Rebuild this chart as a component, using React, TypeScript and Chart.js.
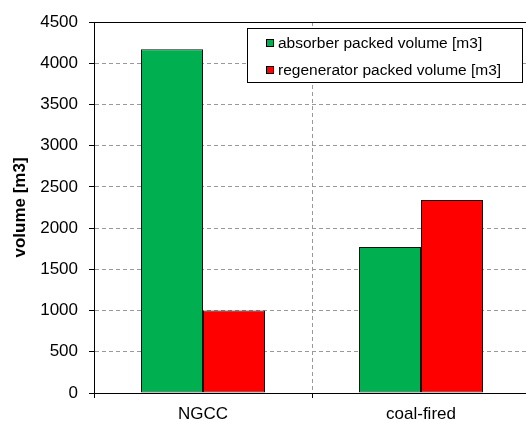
import React, { useEffect, useRef } from "react";
import { Chart, registerables } from "chart.js";

Chart.register(...registerables);

const categories = ["NGCC", "coal-fired"];
const seriesNames = ["absorber packed volume [m3]", "regenerator packed volume [m3]"];
const absorberValues = [4170, 1770];
const regeneratorValues = [1000, 2340];
const seriesColors = ["#00B050", "#FF0000"];
const yTicks = [0, 500, 1000, 1500, 2000, 2500, 3000, 3500, 4000, 4500];

const FONT = "Arial, 'Liberation Sans', sans-serif";

const overlayPlugin = {
  id: "overlay",
  afterDraw(chart: any) {
    const { ctx, chartArea } = chart;
    ctx.save();
    ctx.strokeStyle = "#000";
    ctx.lineWidth = 1;
    ctx.beginPath();
    ctx.moveTo(chartArea.left - 5, Math.round(chartArea.top) + 0.5);
    ctx.lineTo(chartArea.right, Math.round(chartArea.top) + 0.5);
    ctx.stroke();

    const bx = 247.5, by = 28.5, bw = 275, bh = 54;
    ctx.fillStyle = "#fff";
    ctx.fillRect(bx, by, bw, bh);
    ctx.strokeStyle = "#000";
    ctx.strokeRect(bx, by, bw, bh);
    ctx.font = `15.5px ${FONT}`;
    ctx.textBaseline = "middle";
    ctx.textAlign = "left";
    chart.data.datasets.forEach((ds: any, i: number) => {
      const cy = 43 + i * 27;
      ctx.fillStyle = ds.backgroundColor;
      ctx.fillRect(266, cy - 4, 8, 8);
      ctx.strokeStyle = "#000";
      ctx.strokeRect(266.5, cy - 3.5, 7, 7);
      ctx.fillStyle = "#000";
      ctx.fillText(ds.label, 278, cy + 1);
    });
    ctx.restore();
  },
};

export default function App() {
  const ref = useRef<HTMLCanvasElement | null>(null);
  useEffect(() => {
    if (!ref.current) return;
    const chart = new Chart(ref.current, {
      type: "bar",
      data: {
        labels: categories,
        datasets: [
          {
            label: seriesNames[0],
            data: absorberValues,
            backgroundColor: seriesColors[0],
            borderColor: "#111",
            borderWidth: 1,
            borderSkipped: false,
          },
          {
            label: seriesNames[1],
            data: regeneratorValues,
            backgroundColor: seriesColors[1],
            borderColor: "#111",
            borderWidth: 1,
            borderSkipped: false,
          },
        ],
      },
      options: {
        animation: false,
        responsive: false,
        maintainAspectRatio: false,
        devicePixelRatio: 1,
        layout: { padding: { top: 22, right: 2, bottom: 0, left: 0 } },
        datasets: { bar: { categoryPercentage: 124 / 218, barPercentage: 1 } },
        plugins: {
          legend: { display: false },
          tooltip: { enabled: false },
        },
        scales: {
          x: {
            afterFit(scale: any) {
              scale.height = 30;
            },
            grid: {
              display: true,
              offset: true,
              color: "#999",
              lineWidth: 1,
              tickLength: 5,
              tickColor: "#000",
              tickBorderDash: [],
              drawOnChartArea: true,
            },
            border: { display: true, color: "#000", width: 1, dash: [4, 3] },
            ticks: {
              color: "#000",
              font: { family: FONT, size: 17 },
              padding: 6,
            },
          },
          y: {
            min: 0,
            max: 4500,
            afterFit(scale: any) {
              scale.width = 94;
            },
            afterBuildTicks(scale: any) {
              scale.ticks = yTicks.map((v) => ({ value: v }));
            },
            grid: {
              color: "#999",
              lineWidth: 1,
              tickLength: 5,
              tickColor: "#000",
              tickBorderDash: [],
            },
            border: { display: true, color: "#000", width: 1, dash: [4, 3] },
            ticks: {
              color: "#000",
              font: { family: FONT, size: 17 },
              padding: 11,
              callback: (v: any) => String(v),
            },
            title: {
              display: true,
              text: "volume [m3]",
              color: "#000",
              font: { family: FONT, size: 17, weight: "bold" },
              padding: { top: 10, bottom: 0 },
            },
          },
        },
      },
      plugins: [overlayPlugin],
    } as any);
    return () => chart.destroy();
  }, []);
  return (
    <div style={{ position: "absolute", left: 0, top: 0, width: 526, height: 423, overflow: "hidden", background: "#fff" }}>
      <canvas ref={ref} width={532} height={423} style={{ width: 532, height: 423, display: "block" }} />
    </div>
  );
}
